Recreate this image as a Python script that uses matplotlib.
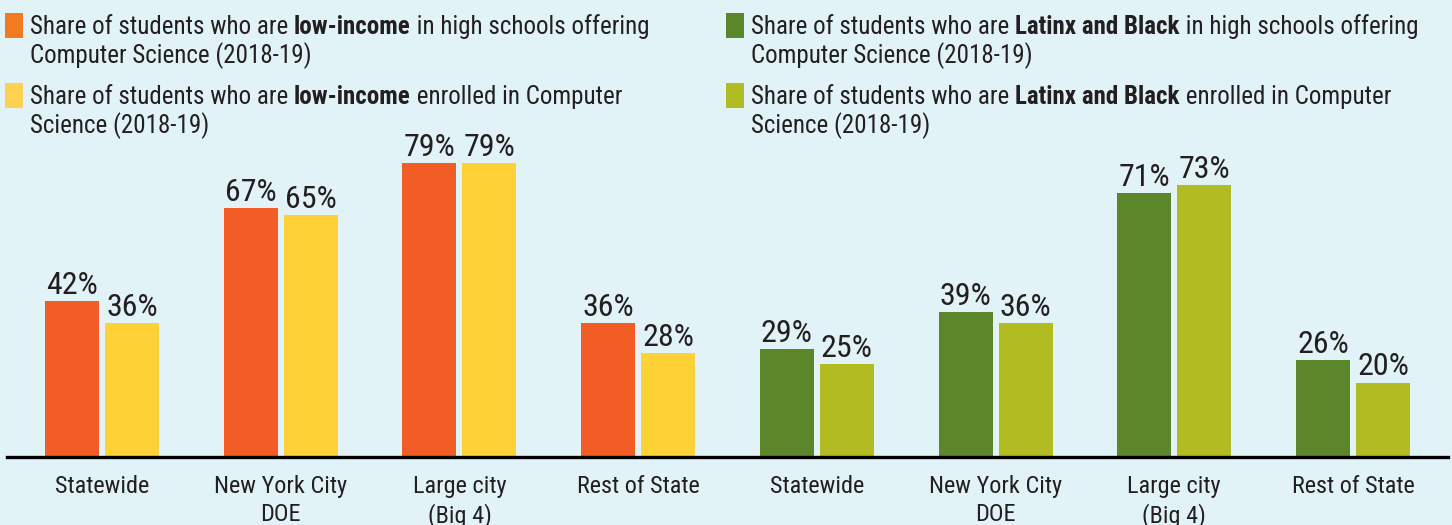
import matplotlib
matplotlib.use("Agg")
import matplotlib.pyplot as plt
import numpy as np

categories = ["Statewide", "New York City\nDOE", "Large city\n(Big 4)", "Rest of State"]
low_income_offering = [42, 67, 79, 36]
low_income_enrolled = [36, 65, 79, 28]
lb_offering = [29, 39, 71, 26]
lb_enrolled = [25, 36, 73, 20]

BG = "#e1f3f6"
ORANGE = "#f15d24"
YELLOW = "#fed136"
DGREEN = "#5b8629"
LGREEN = "#b0bc22"
TXT = "#231f20"

FONT = ["Roboto Condensed", "Archivo Narrow", "DejaVu Sans"]
plt.rcParams["font.family"] = FONT

W, H = 1452, 525
fig = plt.figure(figsize=(W / 100, H / 100), dpi=100, facecolor=BG)
ax = fig.add_axes([7 / W, 1 - 457 / H, 1441 / W, (457 - 140) / H])
ax.set_facecolor(BG)

all_cats = categories + categories
x = np.arange(len(all_cats))
first = low_income_offering + lb_offering
second = low_income_enrolled + lb_enrolled
c1 = [ORANGE] * 4 + [DGREEN] * 4
c2 = [YELLOW] * 4 + [LGREEN] * 4

bw = 0.302
off = 0.168
ax.bar(x - off, first, bw, color=c1, zorder=2)
ax.bar(x + off, second, bw, color=c2, zorder=2)
for xi, v in zip(x - off, first):
    ax.text(xi, v + 0.3, f"{v}%", ha="center", va="bottom", fontsize=23, color=TXT)
for xi, v in zip(x + off, second):
    ax.text(xi, v + 0.3, f"{v}%", ha="center", va="bottom", fontsize=23, color=TXT)

ax.set_xlim(-0.532, 7.532)
ax.set_ylim(0, 85.2)
for s in ["top", "right", "left"]:
    ax.spines[s].set_visible(False)
ax.spines["bottom"].set_linewidth(2.4)
ax.spines["bottom"].set_color("black")
ax.set_yticks([])
ax.set_xticks(x)
ax.set_xticklabels(all_cats, fontsize=17.5, color=TXT, linespacing=1.25, va="top")
ax.tick_params(axis="x", length=0, pad=13)

prev_store = []

def rich(xpx, ypx, parts, size=18):
    for txt, bold in parts:
        w = "bold" if bold else "normal"
        if not prev_store:
            t = fig.text(xpx / W, 1 - ypx / H, txt, fontsize=size, fontweight=w,
                         color=TXT, va="baseline", ha="left")
        else:
            t = fig.add_artist(matplotlib.text.Annotation(
                txt, xy=(1, 0), xycoords=prev_store[-1], va="bottom", ha="left",
                fontsize=size, fontweight=w, color=TXT))
        prev_store.append(t)

def legend_entry(xsq, ysq, color, line1, line2):
    fig.patches.append(matplotlib.patches.Rectangle(
        (xsq / W, 1 - (ysq + 25) / H), 18 / W, 25 / H, transform=fig.transFigure,
        facecolor=color, edgecolor="none"))
    prev_store.clear()
    rich(xsq + 25, ysq + 21, line1)
    prev_store.clear()
    rich(xsq + 25, ysq + 50, line2)

legend_entry(5, 13, "#f37a21",
             [("Share of students who are ", False), ("low-income", True),
              (" in high schools offering", False)],
             [("Computer Science (2018-19)", False)])
legend_entry(5, 83, "#fed150",
             [("Share of students who are ", False), ("low-income", True),
              (" enrolled in Computer", False)],
             [("Science (2018-19)", False)])
legend_entry(726, 13, DGREEN,
             [("Share of students who are ", False), ("Latinx and Black", True),
              (" in high schools offering", False)],
             [("Computer Science (2018-19)", False)])
legend_entry(726, 83, LGREEN,
             [("Share of students who are ", False), ("Latinx and Black", True),
              (" enrolled in Computer", False)],
             [("Science (2018-19)", False)])

fig.savefig("out.png", dpi=100, facecolor=BG)
